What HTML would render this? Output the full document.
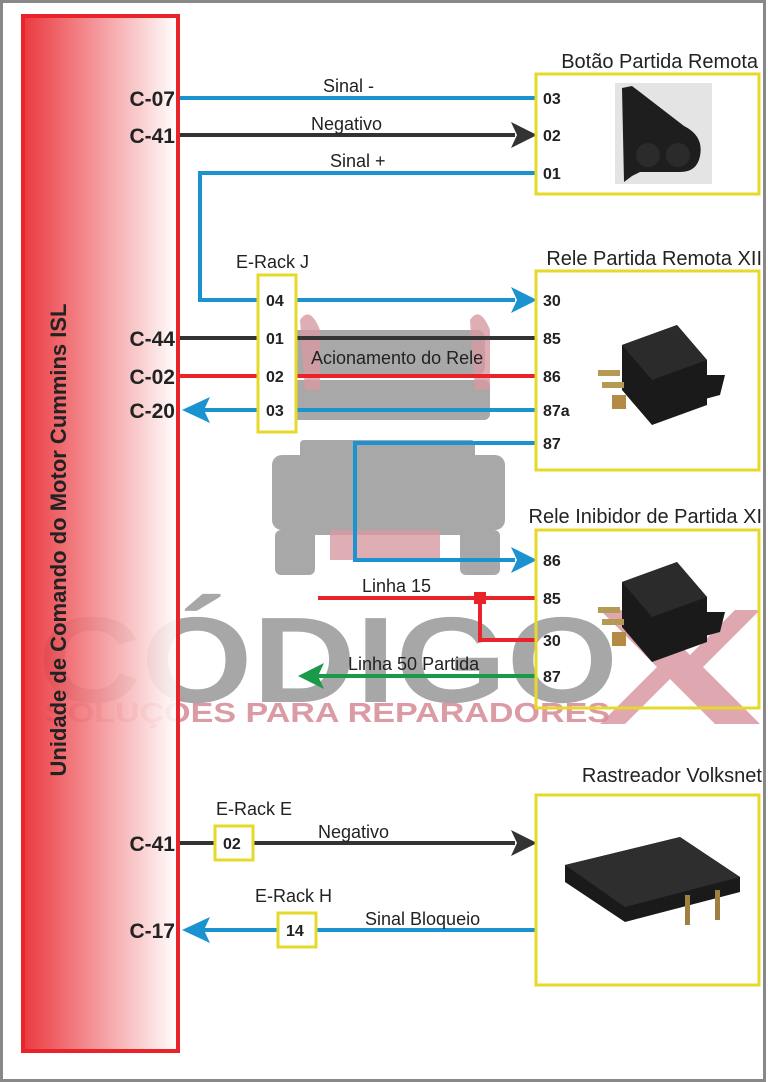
<!DOCTYPE html>
<html><head><meta charset="utf-8"><style>
html,body{margin:0;padding:0;background:#fff}
svg{display:block}
text{font-family:"Liberation Sans",sans-serif}
.c{font-weight:bold;font-size:21px;fill:#222;text-anchor:end}
.p{font-weight:bold;font-size:16px;fill:#222}
.l{font-size:18px;fill:#222}
.t{font-size:20px;fill:#222;text-anchor:end}
</style></head><body>
<svg width="768" height="1082" viewBox="0 0 768 1082" xmlns="http://www.w3.org/2000/svg">
<defs>
<linearGradient id="g" x1="0" x2="1" y1="0" y2="0">
<stop offset="0" stop-color="#e8232a"/><stop offset="1" stop-color="#ffffff"/>
</linearGradient>
</defs>
<rect x="1.5" y="1.5" width="763" height="1079" fill="#fff" stroke="#888" stroke-width="3"/>

<!-- watermark truck -->
<g fill="#9a9a9a" opacity="0.85">
<rect x="290" y="330" width="195" height="45" rx="8"/>
<rect x="285" y="380" width="205" height="40" rx="6"/>
<rect x="300" y="440" width="175" height="95" rx="4"/>
<rect x="272" y="455" width="60" height="75" rx="10"/>
<rect x="445" y="455" width="60" height="75" rx="10"/>
<rect x="275" y="530" width="40" height="45" rx="6"/>
<rect x="460" y="530" width="40" height="45" rx="6"/>
</g>
<g fill="#d79aa2" opacity="0.8">
<rect x="330" y="530" width="110" height="30"/>
<path d="M300 320 q10 -15 20 10 l0 60 l-15 0z"/>
<path d="M470 320 q10 -15 20 10 l0 60 l-15 0z"/>
</g>
<path d="M600,610 l45,0 l45,45 l45,-45 l25,0 l-57,57 l57,57 l-45,0 l-45,-45 l-45,45 l-25,0 l57,-57z" fill="#d48a95" opacity="0.75"/>
<text x="38" y="702" font-size="122" font-weight="bold" fill="#8a8a8a" opacity="0.75" textLength="580" lengthAdjust="spacingAndGlyphs">CÓDIGO</text>
<text x="45" y="722" font-size="28" font-weight="bold" fill="#d48a95" opacity="0.85" textLength="565" lengthAdjust="spacingAndGlyphs">SOLUÇÕES PARA REPARADORES</text>

<!-- ECU box -->
<rect x="23" y="16" width="155" height="1035" fill="url(#g)" fill-opacity="0.9" stroke="#e8232a" stroke-width="4"/>
<text transform="translate(66,540) rotate(-90)" text-anchor="middle" font-size="22" font-weight="bold" fill="#222">Unidade de Comando do Motor Cummins ISL</text>

<text class="c" x="175" y="106">C-07</text>
<text class="c" x="175" y="143">C-41</text>
<text class="c" x="175" y="346">C-44</text>
<text class="c" x="175" y="384">C-02</text>
<text class="c" x="175" y="418">C-20</text>
<text class="c" x="175" y="851">C-41</text>
<text class="c" x="175" y="938">C-17</text>

<!-- wires -->
<g fill="none" stroke-width="4">
<line x1="180" y1="98" x2="537" y2="98" stroke="#1b93d1"/>
<line x1="180" y1="135" x2="515" y2="135" stroke="#333"/>
<polyline points="537,173 200,173 200,300 515,300" stroke="#1b93d1"/>
<line x1="180" y1="338" x2="537" y2="338" stroke="#333"/>
<line x1="180" y1="376" x2="537" y2="376" stroke="#e8232a"/>
<line x1="200" y1="410" x2="537" y2="410" stroke="#1b93d1"/>
<polyline points="537,443 355,443 355,560 515,560" stroke="#1b93d1"/>
<line x1="318" y1="598" x2="537" y2="598" stroke="#e8232a"/>
<polyline points="480,598 480,640 537,640" stroke="#e8232a"/>
<line x1="318" y1="676" x2="537" y2="676" stroke="#1a9a48"/>
<line x1="180" y1="843" x2="515" y2="843" stroke="#333"/>
<line x1="200" y1="930" x2="537" y2="930" stroke="#1b93d1"/>
</g>
<rect x="474" y="592" width="12" height="12" fill="#e8232a"/>
<path d="M537,135 l-26,-13 l6,13 l-6,13z" fill="#333"/>
<path d="M537,300 l-26,-13 l6,13 l-6,13z" fill="#1b93d1"/>
<path d="M537,560 l-26,-13 l6,13 l-6,13z" fill="#1b93d1"/>
<path d="M537,843 l-26,-13 l6,13 l-6,13z" fill="#333"/>
<path d="M182,410 l28,-13 l-6,13 l6,13z" fill="#1b93d1"/>
<path d="M182,930 l28,-13 l-6,13 l6,13z" fill="#1b93d1"/>
<path d="M298,676 l26,-13 l-6,13 l6,13z" fill="#1a9a48"/>

<!-- wire labels -->
<text class="l" x="323" y="92">Sinal -</text>
<text class="l" x="311" y="130">Negativo</text>
<text class="l" x="330" y="167">Sinal +</text>
<text class="l" x="236" y="268">E-Rack J</text>
<text class="l" x="311" y="364">Acionamento do Rele</text>
<text class="l" x="362" y="592">Linha 15</text>
<text class="l" x="348" y="670">Linha 50 Partida</text>
<text class="l" x="216" y="815">E-Rack E</text>
<text class="l" x="318" y="838">Negativo</text>
<text class="l" x="255" y="902">E-Rack H</text>
<text class="l" x="365" y="925">Sinal Bloqueio</text>

<!-- E-Rack boxes -->
<g fill="#fff" stroke="#e6d92a" stroke-width="3">
<rect x="258" y="275" width="38" height="157"/>
<rect x="215" y="826" width="38" height="34"/>
<rect x="278" y="913" width="38" height="34"/>
</g>
<text class="p" x="266" y="306">04</text>
<text class="p" x="266" y="344">01</text>
<text class="p" x="266" y="382">02</text>
<text class="p" x="266" y="416">03</text>
<text class="p" x="223" y="849">02</text>
<text class="p" x="286" y="936">14</text>

<!-- component boxes -->
<g fill="none" stroke="#e6d92a" stroke-width="3">
<rect x="536" y="74" width="223" height="120"/>
<rect x="536" y="271" width="223" height="199"/>
<rect x="536" y="530" width="223" height="178"/>
<rect x="536" y="795" width="223" height="190"/>
</g>
<text class="t" x="758" y="68">Botão Partida Remota</text>
<text class="t" x="762" y="265">Rele Partida Remota XII</text>
<text class="t" x="762" y="523">Rele Inibidor de Partida XI</text>
<text class="t" x="762" y="782">Rastreador Volksnet</text>

<text class="p" x="543" y="104">03</text>
<text class="p" x="543" y="141">02</text>
<text class="p" x="543" y="179">01</text>
<text class="p" x="543" y="306">30</text>
<text class="p" x="543" y="344">85</text>
<text class="p" x="543" y="382">86</text>
<text class="p" x="543" y="416">87a</text>
<text class="p" x="543" y="449">87</text>
<text class="p" x="543" y="566">86</text>
<text class="p" x="543" y="604">85</text>
<text class="p" x="543" y="646">30</text>
<text class="p" x="543" y="682">87</text>

<!-- button photo -->
<rect x="615" y="83" width="97" height="101" fill="#e4e4e4"/>
<path d="M622,88 l10,-2 l52,40 q20,10 16,30 q-3,16 -20,16 l-40,0 l-8,4 l-8,6z" fill="#1e1e1e"/>
<circle cx="648" cy="155" r="12" fill="#2b2b2b"/><circle cx="678" cy="155" r="12" fill="#2b2b2b"/>

<!-- relays -->
<g id="r1">
<path d="M622,345 l55,-20 l30,35 l0,45 l-55,20 l-30,-35z" fill="#1a1a1a"/>
<path d="M622,345 l55,-20 l30,35 l-55,20z" fill="#2b2b2b"/>
<path d="M690,375 l35,0 l-5,20 l-30,8z" fill="#1a1a1a"/>
<rect x="598" y="370" width="22" height="6" fill="#b59a55"/>
<rect x="602" y="382" width="22" height="6" fill="#b59a55"/>
<rect x="612" y="395" width="14" height="14" fill="#b58a45"/>
</g>
<use href="#r1" transform="translate(0,237)"/>

<!-- tracker -->
<path d="M565,865 l115,-28 l60,40 l0,15 l-115,30 l-60,-40z" fill="#1a1a1a"/>
<path d="M565,865 l115,-28 l60,40 l-115,30z" fill="#2e2e2e"/>
<rect x="685" y="895" width="5" height="30" fill="#a08040"/>
<rect x="715" y="890" width="5" height="30" fill="#a08040"/>
</svg>
</body></html>
